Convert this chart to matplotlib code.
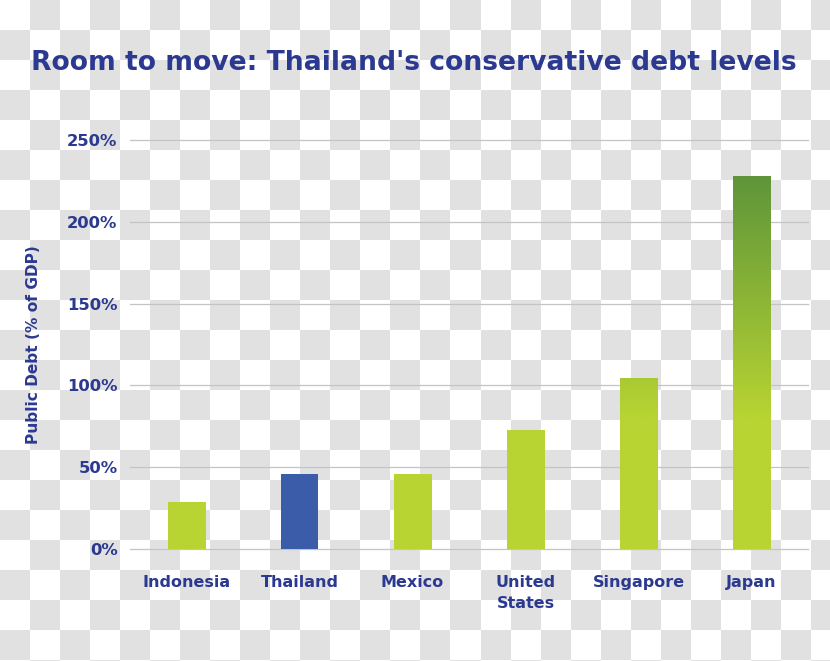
import numpy as np
import matplotlib
matplotlib.use("Agg")
import matplotlib.pyplot as plt
from matplotlib.colors import LinearSegmentedColormap

countries = ["Indonesia", "Thailand", "Mexico", "United\nStates", "Singapore", "Japan"]
debt_pct = [28.7, 45.7, 45.8, 72.6, 104.3, 228.0]
highlight = "Thailand"
y_ticks = [0, 50, 100, 150, 200, 250]
y_tick_labels = ["0%", "50%", "100%", "150%", "200%", "250%"]

navy = "#2b3990"
blue = "#3a5ca9"
lime = "#b8d433"
dark_green = "#5e953a"
font = ["DejaVu Sans"]

W, H = 830, 661
fig = plt.figure(figsize=(W / 100, H / 100), dpi=100)

# transparency checkerboard behind everything
bg = fig.add_axes([0, 0, 1, 1], zorder=-10)
sq = 30
ny, nx = int(np.ceil(H / sq)), int(np.ceil(W / sq))
board = (np.add.outer(np.arange(ny), np.arange(nx)) % 2).astype(float)
bg.imshow(board, cmap=LinearSegmentedColormap.from_list("cb", ["#ffffff", "#e1e1e1"]),
          extent=[0, nx * sq, ny * sq, 0], interpolation="nearest", aspect="auto")
bg.set_xlim(0, W)
bg.set_ylim(H, 0)
bg.axis("off")

ax = fig.add_axes([130 / W, (H - 549) / H, 678 / W, 409 / H])
ax.set_facecolor("none")
x = np.arange(len(countries))
bars = ax.bar(x, debt_pct, width=0.33, color=[blue if c == highlight else lime for c in countries],
              zorder=3)

# vertical gradient on the green bars: lime below ~80%, darker toward the top
grad_cmap = LinearSegmentedColormap.from_list("g", [(0, lime), (0.35, lime), (1, dark_green)])
grad = np.linspace(0, 1, 256).reshape(-1, 1)
for c, b in zip(countries, bars):
    if c == highlight:
        continue
    x0 = b.get_x()
    im = ax.imshow(grad, cmap=grad_cmap, origin="lower", aspect="auto",
                   extent=[x0, x0 + b.get_width(), 0, max(debt_pct)], zorder=4,
                   vmin=0, vmax=1)
    im.set_clip_path(b)

ax.set_xlim(-0.5, len(countries) - 0.5)
ax.set_ylim(0, 250)
ax.set_yticks(y_ticks)
ax.set_yticklabels(y_tick_labels)
ax.set_xticks(x)
ax.set_xticklabels(countries, linespacing=1.45)
ax.grid(axis="y", color="#c4c4c4", linewidth=0.9, zorder=1)
for gl in ax.get_ygridlines():
    gl.set_clip_on(False)
ax.set_axisbelow(True)
for s in ax.spines.values():
    s.set_visible(False)
ax.tick_params(length=0)
ax.tick_params(axis="y", pad=9)
ax.tick_params(axis="x", pad=19)
for lab in ax.get_yticklabels():
    lab.set_fontsize(11.8)
for lab in ax.get_xticklabels():
    lab.set_fontsize(11.5)
    lab.set_verticalalignment("top")
for lab in ax.get_xticklabels() + ax.get_yticklabels():
    lab.set_family(font)
    lab.set_fontweight("bold")
    lab.set_color(navy)

fig.text(33 / W, 1 - 345 / H, "Public Debt (% of GDP)", rotation=90, ha="center", va="center",
         family=font, fontweight="bold", fontsize=11.1, color=navy)
fig.text(414 / W, 1 - 63 / H, "Room to move: Thailand's conservative debt levels", ha="center",
         va="center", family=font, fontweight="bold", fontsize=19.2, color=navy)

fig.savefig("out.png", dpi=100)
